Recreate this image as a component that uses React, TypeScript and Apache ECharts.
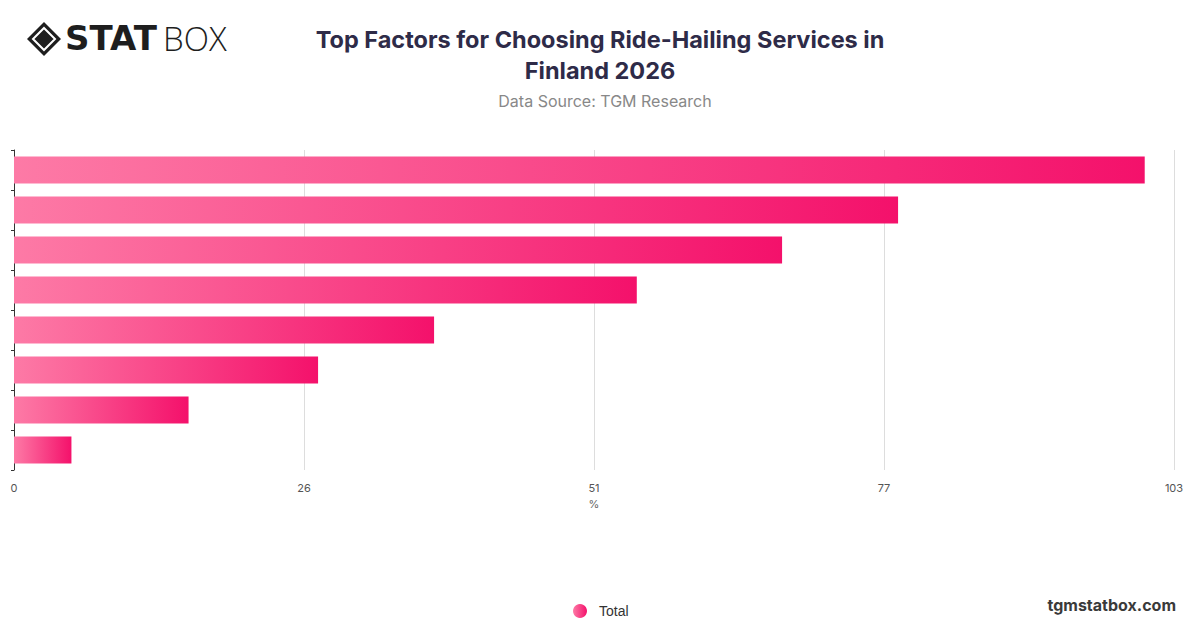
import React, { useEffect, useRef } from "react";
import * as echarts from "echarts";

const categories = [
  "Affordable pricing",
  "Convenience",
  "Short waiting time",
  "Safety and security",
  "Ease of app use",
  "Driver ratings",
  "Payment options",
  "Loyalty rewards",
];
const totalValues = [100.4, 78.5, 68.2, 55.3, 37.3, 27.0, 15.5, 5.1];
const axisMax = 103;
const axisInterval = 25.75;
const tickLabels = ["0", "26", "51", "77", "103"];

const FONT = "Inter, 'Noto Sans', sans-serif";

export default function App() {
  const ref = useRef<HTMLDivElement>(null);
  useEffect(() => {
    if (!ref.current) return;
    const chart = echarts.init(ref.current, undefined, { renderer: "svg" });
    const grad = new echarts.graphic.LinearGradient(0, 0, 1, 0, [
      { offset: 0, color: "#fd7aa6" },
      { offset: 1, color: "#f4116b" },
    ]);
    chart.setOption({
      animation: false,
      backgroundColor: "#ffffff",
      textStyle: { fontFamily: FONT },
      title: [
        {
          text: "Top Factors for Choosing Ride-Hailing Services in\nFinland 2026",
          left: 595,
          top: 19,
          textAlign: "center",
          textStyle: {
            fontFamily: FONT,
            fontSize: 23.5,
            fontWeight: "bold",
            color: "#2e2b48",
            lineHeight: 31,
          },
        },
        {
          text: "Data Source: TGM Research",
          left: 600,
          top: 88,
          textAlign: "center",
          textStyle: {
            fontFamily: FONT,
            fontSize: 16,
            fontWeight: "normal",
            color: "#888888",
          },
        },
      ],
      grid: { left: 14, right: 26, top: 150, bottom: 158, containLabel: false },
      xAxis: {
        type: "value",
        min: 0,
        max: axisMax,
        interval: axisInterval,
        name: "%",
        nameLocation: "middle",
        nameGap: 28,
        nameTextStyle: { fontSize: 11, color: "#666", fontFamily: FONT },
        axisLabel: {
          fontSize: 11,
          color: "#555",
          margin: 12,
          fontFamily: FONT,
          formatter: (v: number) => {
            const i = Math.round(v / axisInterval);
            return tickLabels[i] ?? String(Math.round(v));
          },
        },
        axisLine: { show: false },
        axisTick: { show: false },
        splitLine: { show: true, lineStyle: { color: "#dddddd", width: 1 } },
      },
      yAxis: {
        type: "category",
        data: categories,
        inverse: true,
        axisLabel: { show: false },
        axisLine: { show: true, lineStyle: { color: "#333333", width: 1 } },
        axisTick: { show: true, length: 3, lineStyle: { color: "#333333" } },
        splitLine: { show: false },
      },
      legend: {
        top: 599,
        left: 568,
        icon: "circle",
        itemWidth: 28,
        itemHeight: 14,
        itemGap: 10,
        textStyle: { fontSize: 14, color: "#333", fontFamily: "'Liberation Sans', Arial, sans-serif" },
        data: ["Total"],
      },
      series: [
        {
          name: "Total",
          type: "bar",
          data: totalValues,
          barCategoryGap: "32%",
          itemStyle: { color: grad },
        },
      ],
      graphic: [
        {
          type: "group",
          left: 27,
          top: 22,
          children: [
            {
              type: "polygon",
              shape: { points: [[17, 0], [34, 17], [17, 34], [0, 17]] },
              style: { fill: "#1e1e1e" },
            },
            {
              type: "polygon",
              shape: { points: [[17, 6], [28, 17], [17, 28], [6, 17]] },
              style: { fill: "#1e1e1e", stroke: "#ffffff", lineWidth: 2 },
            },
            {
              type: "polygon",
              shape: { points: [[17, 10], [24, 17], [17, 24], [10, 17]] },
              style: { fill: "#1e1e1e" },
            },
          ],
        },
        {
          type: "text",
          left: 65,
          top: 21,
          style: {
            text: "STAT",
            font: "900 34px 'DejaVu Sans', sans-serif",
            fill: "#1e1e1e",
          },
        },
        {
          type: "text",
          left: 163,
          top: 22,
          style: {
            text: "BOX",
            font: "300 33px 'Open Sans', sans-serif",
            fill: "#1e1e1e",
          },
        },
        {
          type: "text",
          right: 24,
          top: 597,
          style: {
            text: "tgmstatbox.com",
            font: "bold 16px Inter, 'Noto Sans', sans-serif",
            fill: "#3a3a3a",
          },
        },
      ],
    });
    return () => chart.dispose();
  }, []);
  return <div ref={ref} style={{ width: 1200, height: 628, margin: -8 }} />;
}
